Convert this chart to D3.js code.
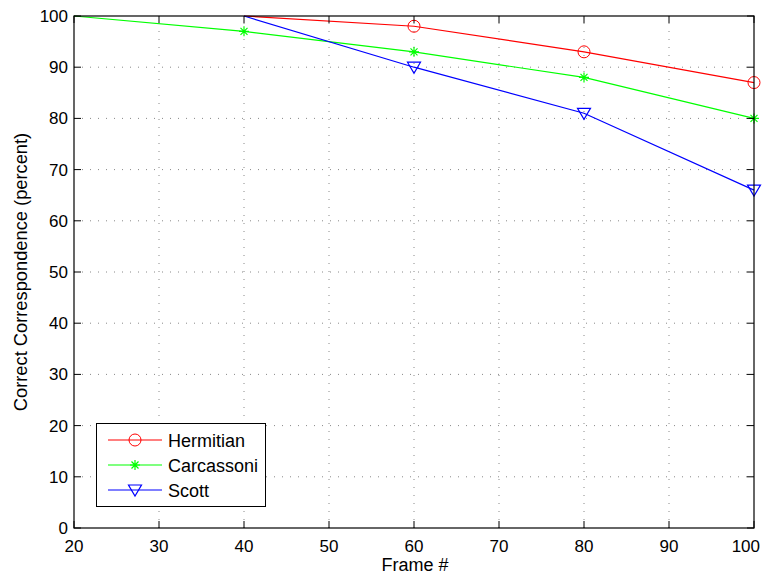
<!DOCTYPE html>
<html>
<head>
<meta charset="utf-8">
<script src="https://cdn.jsdelivr.net/npm/d3@7"></script>
<style>
  body { margin: 0; background: #fff; }
  text { font-family: "Liberation Sans", Arial, sans-serif; fill: #000; }
</style>
</head>
<body>
<div id="chart"></div>
<script>
// values
var xTicks = [20, 30, 40, 50, 60, 70, 80, 90, 100];
var yTicks = [0, 10, 20, 30, 40, 50, 60, 70, 80, 90, 100];

var hermitianX = [40, 60, 80, 100];
var hermitianY = [100, 98, 93, 87];
var carcassoniX = [20, 40, 60, 80, 100];
var carcassoniY = [100, 97, 93, 88, 80];
var scottX = [40, 60, 80, 100];
var scottY = [100, 90, 81, 66];

var seriesNames = ["Hermitian", "Carcassoni", "Scott"];
var seriesColors = ["#ff0000", "#00ff00", "#0000ff"];
var seriesMarkers = ["circle", "star", "triangle"];

var width = 771, height = 577;
var margin = {left: 74, right: 17, top: 16, bottom: 49};

var x = d3.scaleLinear().domain([20, 100]).range([margin.left, width - margin.right]);
var y = d3.scaleLinear().domain([0, 100]).range([height - margin.bottom, margin.top]);

var svg = d3.select("#chart").append("svg")
    .attr("width", width)
    .attr("height", height);

// grid
svg.append("g").selectAll("line")
    .data(xTicks.slice(1, -1))
    .enter().append("line")
    .attr("x1", d => x(d)).attr("x2", d => x(d))
    .attr("y1", y(0)).attr("y2", y(100))
    .attr("stroke", "#888").attr("stroke-width", 1)
    .attr("stroke-dasharray", "1,7");
svg.append("g").selectAll("line")
    .data(yTicks.slice(1, -1))
    .enter().append("line")
    .attr("y1", d => y(d)).attr("y2", d => y(d))
    .attr("x1", x(20)).attr("x2", x(100))
    .attr("stroke", "#888").attr("stroke-width", 1)
    .attr("stroke-dasharray", "1,7");

// series
var series = [
    {x: hermitianX, y: hermitianY},
    {x: carcassoniX, y: carcassoniY},
    {x: scottX, y: scottY}
];

var line = d3.line().x(d => x(d[0])).y(d => y(d[1]));

function drawMarker(g, type, color, cx, cy) {
    if (type == "circle") {
        g.append("circle").attr("cx", cx).attr("cy", cy).attr("r", 6)
            .attr("fill", "none").attr("stroke", color).attr("stroke-width", 1);
    } else if (type == "triangle") {
        g.append("path")
            .attr("d", "M" + (cx - 6.5) + "," + (cy - 5) + "L" + (cx + 6.5) + "," + (cy - 5) + "L" + cx + "," + (cy + 6) + "Z")
            .attr("fill", "none").attr("stroke", color).attr("stroke-width", 1.2);
    } else {
        var s = 5;
        var p = "M" + (cx - s) + "," + cy + "L" + (cx + s) + "," + cy +
            "M" + cx + "," + (cy - s) + "L" + cx + "," + (cy + s) +
            "M" + (cx - s * 0.7) + "," + (cy - s * 0.7) + "L" + (cx + s * 0.7) + "," + (cy + s * 0.7) +
            "M" + (cx - s * 0.7) + "," + (cy + s * 0.7) + "L" + (cx + s * 0.7) + "," + (cy - s * 0.7);
        g.append("path").attr("d", p).attr("stroke", color).attr("stroke-width", 1.2).attr("fill", "none");
    }
}

series.forEach(function (s, i) {
    var pts = s.x.map((v, j) => [v, s.y[j]]);
    var g = svg.append("g");
    g.append("path").datum(pts)
        .attr("d", line)
        .attr("fill", "none")
        .attr("stroke", seriesColors[i])
        .attr("stroke-width", 1.2);
    // markers sitting on the 100 line are clipped away in the original
    pts.filter(p => p[1] < 100).forEach(function (p) {
        drawMarker(g, seriesMarkers[i], seriesColors[i], x(p[0]), y(p[1]));
    });
});

// ticks (inside, on all four sides)
var tickLen = 7;
var tk = svg.append("g").attr("stroke", "#000").attr("stroke-width", 1);
xTicks.forEach(function (d) {
    tk.append("line").attr("x1", x(d)).attr("x2", x(d)).attr("y1", y(0)).attr("y2", y(0) - tickLen);
    tk.append("line").attr("x1", x(d)).attr("x2", x(d)).attr("y1", y(100)).attr("y2", y(100) + tickLen);
});
yTicks.forEach(function (d) {
    tk.append("line").attr("x1", x(20)).attr("x2", x(20) + tickLen).attr("y1", y(d)).attr("y2", y(d));
    tk.append("line").attr("x1", x(100)).attr("x2", x(100) - tickLen).attr("y1", y(d)).attr("y2", y(d));
});

// box
svg.append("rect")
    .attr("x", x(20)).attr("y", y(100))
    .attr("width", x(100) - x(20)).attr("height", y(0) - y(100))
    .attr("fill", "none").attr("stroke", "#000").attr("stroke-width", 1.2);

// tick labels
svg.append("g").selectAll("text")
    .data(xTicks).enter().append("text")
    .attr("x", d => d == 100 ? x(d) + 6 : x(d))
    .attr("y", y(0) + 24)
    .attr("text-anchor", d => d == 100 ? "end" : "middle")
    .attr("font-size", 17)
    .text(d => d);
svg.append("g").selectAll("text")
    .data(yTicks).enter().append("text")
    .attr("x", x(20) - 6).attr("y", d => y(d) + 6)
    .attr("text-anchor", "end")
    .attr("font-size", 17)
    .text(d => d);

// axis labels
svg.append("text")
    .attr("x", 415).attr("y", 571)
    .attr("text-anchor", "middle")
    .attr("font-size", 18)
    .text("Frame #");
svg.append("text")
    .attr("transform", "translate(27," + ((y(0) + y(100)) / 2) + ") rotate(-90)")
    .attr("text-anchor", "middle")
    .attr("font-size", 18.3)
    .text("Correct Correspondence (percent)");

// legend
var lg = svg.append("g");
lg.append("rect")
    .attr("x", 96.5).attr("y", 423.5).attr("width", 169).attr("height", 83)
    .attr("fill", "#fff").attr("stroke", "#000").attr("stroke-width", 1);
var rowY = [440, 465, 490];
seriesNames.forEach(function (name, i) {
    lg.append("line")
        .attr("x1", 108).attr("x2", 162).attr("y1", rowY[i]).attr("y2", rowY[i])
        .attr("stroke", seriesColors[i]).attr("stroke-width", 1.2);
    drawMarker(lg, seriesMarkers[i], seriesColors[i], 135, rowY[i]);
    lg.append("text")
        .attr("x", 168).attr("y", rowY[i] + 6.5)
        .attr("font-size", 18)
        .text(name);
});
</script>
</body>
</html>
